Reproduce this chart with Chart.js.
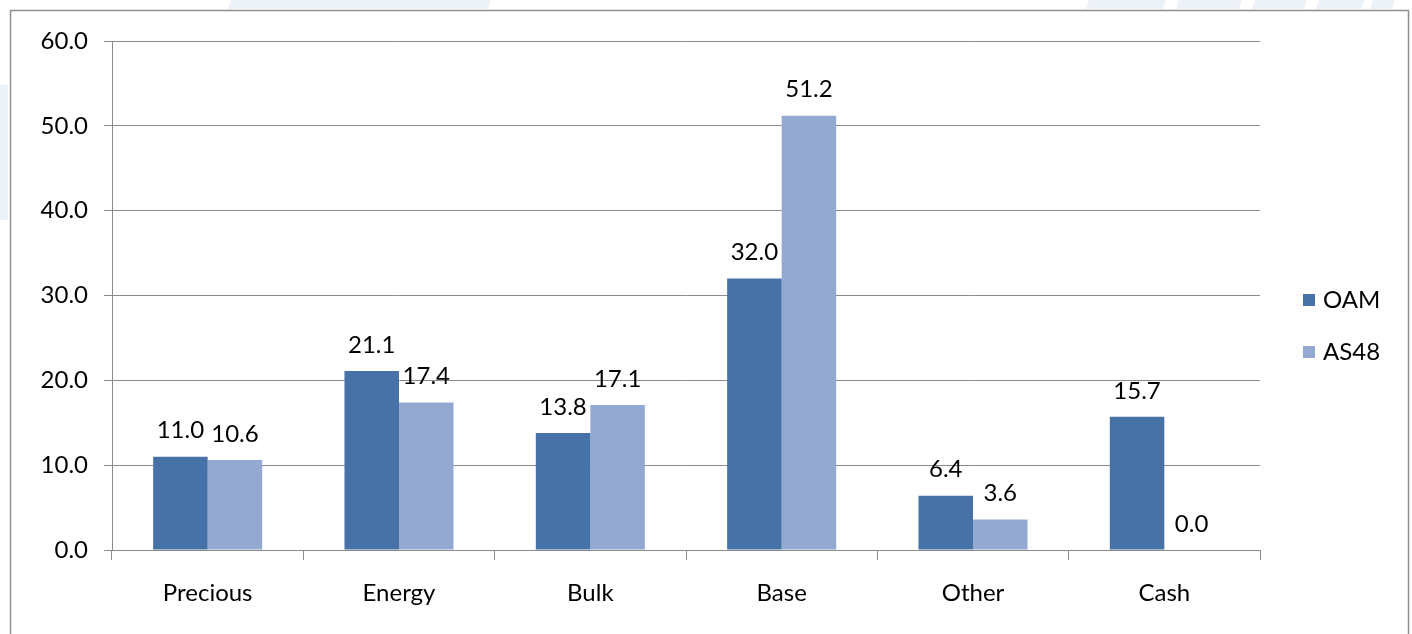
<!DOCTYPE html>
<html>
<head>
<meta charset="utf-8">
<script src="https://cdn.jsdelivr.net/npm/chart.js@4.4.1/dist/chart.umd.min.js"></script>
<style>
  html, body { margin: 0; padding: 0; background: #ffffff; }
  #wrap { width: 1412px; height: 634px; }
</style>
</head>
<body>
<div id="wrap"><canvas id="c" width="1412" height="634"></canvas></div>
<script>
// Portfolio weights by commodity group (%)
const categories = ['Precious', 'Energy', 'Bulk', 'Base', 'Other', 'Cash'];
const oamValues  = [11.0, 21.1, 13.8, 32.0, 6.4, 15.7];
const as48Values = [10.6, 17.4, 17.1, 51.2, 3.6, 0.0];
const seriesNames = ['OAM', 'AS48'];
const yTicks = [0, 10, 20, 30, 40, 50, 60];

const FONT = 'Lato, "Open Sans", "Liberation Sans", sans-serif';
const AXIS_GREY = '#8a8a8a';
const TEXT = '#000000';

// Frame and faint backdrop shapes around the chart
const framePlugin = {
  id: 'frame',
  beforeDraw(chart) {
    const ctx = chart.ctx;
    ctx.save();
    ctx.fillStyle = '#ffffff';
    ctx.fillRect(0, 0, chart.width, chart.height);
    ctx.fillStyle = '#edf2f8';
    const strips = [[228, 488], [1086, 1163], [1176, 1239], [1252, 1304], [1316, 1361], [1370, 1392]];
    strips.forEach(([a, b]) => {
      ctx.beginPath();
      ctx.moveTo(a + 3, 0); ctx.lineTo(b + 3, 0);
      ctx.lineTo(b, 9); ctx.lineTo(a, 9);
      ctx.closePath(); ctx.fill();
    });
    ctx.fillRect(0, 85, 8, 135);
    ctx.strokeStyle = '#8f8f8f';
    ctx.lineWidth = 1.5;
    ctx.strokeRect(10.5, 10.5, 1398, 650);
    ctx.restore();
  }
};

// Value labels above each bar
const valueLabels = {
  id: 'valueLabels',
  afterDatasetsDraw(chart) {
    const ctx = chart.ctx;
    ctx.save();
    ctx.font = '24px ' + FONT;
    ctx.fillStyle = TEXT;
    ctx.textAlign = 'center';
    ctx.textBaseline = 'middle';
    chart.data.datasets.forEach((ds, i) => {
      const meta = chart.getDatasetMeta(i);
      meta.data.forEach((bar, j) => {
        ctx.fillText(ds.data[j].toFixed(1), bar.x, bar.y - 26);
      });
    });
    ctx.restore();
  }
};

// Series key to the right of the plot
const sideLegend = {
  id: 'sideLegend',
  afterDraw(chart) {
    const ctx = chart.ctx;
    const area = chart.chartArea;
    ctx.save();
    ctx.font = '24px ' + FONT;
    ctx.textBaseline = 'middle';
    ctx.textAlign = 'left';
    chart.data.datasets.forEach((ds, i) => {
      const x = area.right + 43;
      const y = area.top + 259 + i * 52;
      ctx.fillStyle = ds.backgroundColor;
      ctx.fillRect(x, y - 6, 12, 12);
      ctx.fillStyle = TEXT;
      ctx.fillText(ds.label, x + 20, y);
    });
    ctx.restore();
  }
};

new Chart(document.getElementById('c'), {
  type: 'bar',
  data: {
    labels: categories,
    datasets: [
      { label: seriesNames[0], data: oamValues,  backgroundColor: '#4672a8' },
      { label: seriesNames[1], data: as48Values, backgroundColor: '#94a9d1' }
    ]
  },
  plugins: [framePlugin, valueLabels, sideLegend],
  options: {
    responsive: false,
    animation: false,
    events: [],
    layout: { padding: { left: 40, top: 41, right: 152, bottom: 26 } },
    plugins: {
      legend: { display: false },
      tooltip: { enabled: false }
    },
    datasets: {
      bar: { categoryPercentage: 0.57, barPercentage: 1.0, borderWidth: 0 }
    },
    scales: {
      x: {
        offset: true,
        grid: {
          offset: true,
          drawOnChartArea: false,
          drawTicks: true,
          tickLength: 10,
          color: AXIS_GREY
        },
        border: { display: true, color: AXIS_GREY, width: 1 },
        ticks: {
          font: { family: FONT, size: 24 },
          color: TEXT,
          padding: 19,
          maxRotation: 0
        },
        afterFit(scale) { scale.height = 58; }
      },
      y: {
        min: yTicks[0],
        max: yTicks[yTicks.length - 1],
        afterBuildTicks(scale) { scale.ticks = yTicks.map(v => ({ value: v })); },
        grid: {
          color: AXIS_GREY,
          tickLength: 8,
          drawTicks: true,
          lineWidth: 1
        },
        border: { display: true, color: AXIS_GREY, width: 1 },
        ticks: {
          font: { family: FONT, size: 24 },
          color: TEXT,
          padding: 16,
          callback: v => Number(v).toFixed(1)
        },
        afterFit(scale) { scale.width = 72; }
      }
    }
  }
});
</script>
</body>
</html>
